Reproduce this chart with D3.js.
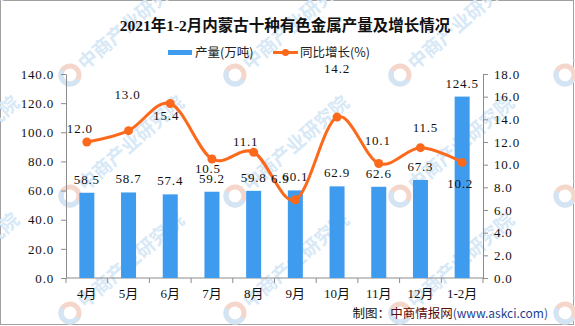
<!DOCTYPE html>
<html>
<head>
<meta charset="utf-8">
<script src="https://cdn.jsdelivr.net/npm/d3@7"></script>
<style>
  html, body { margin: 0; padding: 0; background: #fff; }
  svg { display: block; }
</style>
</head>
<body>
<svg id="chart" width="575" height="326"></svg>
<script>
// Months and values
const categories = ["4月", "5月", "6月", "7月", "8月", "9月", "10月", "11月", "12月", "1-2月"];
const output = [58.5, 58.7, 57.4, 59.2, 59.8, 60.1, 62.9, 62.6, 67.3, 124.5];   // 产量(万吨)
const growth = [12.0, 13.0, 15.4, 10.5, 11.1, 6.9, 14.2, 10.1, 11.5, 10.2];     // 同比增长(%)
const leftTicks = [0, 20, 40, 60, 80, 100, 120, 140];
const rightTicks = [0, 2, 4, 6, 8, 10, 12, 14, 16, 18];

const title = "2021年1-2月内蒙古十种有色金属产量及增长情况";
const seriesNames = ["产量(万吨)", "同比增长(%)"];
const sourceParts = [["制图：", "#111"], ["中商情报网", "#5c0a0a"], ["(www.askci.com)", "#1f3f8f"]];

const W = 575, H = 326;
const plot = { left: 66, right: 483, top: 74, bottom: 278 };
const BAR = "#3f9bee", LINE = "#fb6a1c", AXIS = "#8c8c8c";
const numFont = "'Liberation Serif', 'Noto Sans CJK SC', serif";
const cjkFont = "'Noto Sans CJK SC', sans-serif";

const svg = d3.select("#chart");

// frame
svg.append("rect").attr("x", 0.5).attr("y", 0.5).attr("width", W - 2).attr("height", H - 2)
  .attr("fill", "#fff").attr("stroke", "#a0a0a0");

// background watermark
const wm = svg.append("g").attr("class", "watermark");
const wmX = [-95, 70, 235, 400, 565], wmY = [75, 196, 313];
wmX.forEach(x => wmY.forEach(y => {
  const g = wm.append("g").attr("transform", `translate(${x},${y}) rotate(-41)`);
  g.append("circle").attr("r", 9).attr("fill", "none").attr("stroke", "#f5d6cb").attr("stroke-width", 5);
  g.append("path").attr("d", d3.arc()({ innerRadius: 6.5, outerRadius: 11.5, startAngle: Math.PI * 0.9, endAngle: Math.PI * 1.9 }))
    .attr("fill", "#d3e5f4");
  g.append("text").attr("x", 14).attr("y", 7).text("中商产业研究院")
    .attr("font-family", cjkFont).attr("font-weight", "bold").attr("font-size", 19)
    .attr("fill", "#d7e8f6");
}));

// scales
const x = d3.scaleBand().domain(categories).range([plot.left, plot.right]).padding(0);
const yL = d3.scaleLinear().domain([0, 140]).range([plot.bottom, plot.top]);
const yR = d3.scaleLinear().domain([0, 18]).range([plot.bottom, plot.top]);
const cx = c => x(c) + x.bandwidth() / 2;
const barW = x.bandwidth() * 0.36;

// axes
const axisStyle = g => {
  g.selectAll("path, line").attr("stroke", AXIS);
  g.selectAll("text").attr("font-family", numFont).attr("font-size", 13).attr("fill", "#111")
    .attr("letter-spacing", "0.8px");
};
svg.append("g").attr("transform", `translate(${plot.left},0)`)
  .call(d3.axisLeft(yL).tickValues(leftTicks).tickFormat(d3.format(".1f")).tickSize(5).tickSizeOuter(0).tickPadding(7))
  .call(axisStyle);
svg.append("g").attr("transform", `translate(${plot.right},0)`)
  .call(d3.axisRight(yR).tickValues(rightTicks).tickFormat(d3.format(".1f")).tickSize(5).tickSizeOuter(0).tickPadding(6))
  .call(axisStyle);

// category axis with ticks on band edges
const xAxis = svg.append("g").attr("transform", `translate(0,${plot.bottom})`);
xAxis.append("line").attr("x1", plot.left).attr("x2", plot.right).attr("stroke", AXIS);
const edges = categories.map(c => x(c)).concat([plot.right]);
xAxis.selectAll("line.tick").data(edges).join("line").attr("class", "tick")
  .attr("x1", d => d).attr("x2", d => d).attr("y1", 0).attr("y2", 5).attr("stroke", AXIS);
xAxis.selectAll("text").data(categories).join("text")
  .attr("x", d => cx(d)).attr("y", 20).attr("text-anchor", "middle")
  .attr("font-family", numFont).attr("font-size", 13).attr("fill", "#111")
  .text(d => d);

// bars
svg.append("g").selectAll("rect").data(categories).join("rect")
  .attr("x", (d) => cx(d) - barW / 2).attr("width", barW)
  .attr("y", (d, i) => yL(output[i])).attr("height", (d, i) => plot.bottom - yL(output[i]))
  .attr("fill", BAR);

svg.append("g").selectAll("text").data(categories).join("text")
  .attr("x", d => cx(d)).attr("y", (d, i) => yL(output[i]) - 9)
  .attr("text-anchor", "middle").attr("font-family", numFont).attr("font-size", 13)
  .attr("letter-spacing", "0.8px").attr("fill", "#111")
  .text((d, i) => output[i].toFixed(1));

// growth line
const pts = categories.map((c, i) => [cx(c), yR(growth[i])]);
svg.append("path").datum(pts)
  .attr("d", d3.line().curve(d3.curveCardinal.tension(0)))
  .attr("fill", "none").attr("stroke", LINE).attr("stroke-width", 3);
svg.append("g").selectAll("circle").data(pts).join("circle")
  .attr("cx", d => d[0]).attr("cy", d => d[1]).attr("r", 4.5).attr("fill", LINE);

// growth labels, nudged around the curve
const labelShift = [[-7, -14], [-1, -36], [-4, 12], [-4, 9], [-8, -11], [-15, -21], [0, -49], [-1, -23], [5, -20], [-2, 21]];
svg.append("g").selectAll("text").data(pts).join("text")
  .attr("x", (d, i) => d[0] + labelShift[i][0])
  .attr("y", (d, i) => d[1] + labelShift[i][1] + 4.5)
  .attr("text-anchor", "middle").attr("font-family", numFont).attr("font-size", 13)
  .attr("letter-spacing", "0.8px").attr("fill", "#111")
  .text((d, i) => growth[i].toFixed(1));

// title
svg.append("text").attr("x", 285).attr("y", 31).attr("text-anchor", "middle")
  .attr("font-family", numFont).attr("font-weight", "bold").attr("font-size", 15.5).attr("fill", "#111")
  .text(title);

// legend
const lg = svg.append("g");
lg.append("rect").attr("x", 168).attr("y", 50).attr("width", 24).attr("height", 5).attr("fill", BAR);
lg.append("text").attr("x", 195).attr("y", 57).attr("font-family", cjkFont).attr("font-size", 12.5)
  .attr("fill", "#222").text(seriesNames[0]);
lg.append("line").attr("x1", 273).attr("x2", 298).attr("y1", 52.5).attr("y2", 52.5)
  .attr("stroke", LINE).attr("stroke-width", 3);
lg.append("circle").attr("cx", 285.5).attr("cy", 52.5).attr("r", 3.5).attr("fill", LINE);
lg.append("text").attr("x", 300).attr("y", 57).attr("font-family", cjkFont).attr("font-size", 12.5)
  .attr("fill", "#222").text(seriesNames[1]);

// source note
const src = svg.append("text").attr("x", 548).attr("y", 318).attr("text-anchor", "end")
  .attr("font-family", cjkFont).attr("font-size", 12.5);
src.selectAll("tspan").data(sourceParts).join("tspan")
  .attr("fill", d => d[1]).attr("font-size", (d, i) => i === 2 ? 12 : 12.5).text(d => d[0]);
</script>
</body>
</html>
